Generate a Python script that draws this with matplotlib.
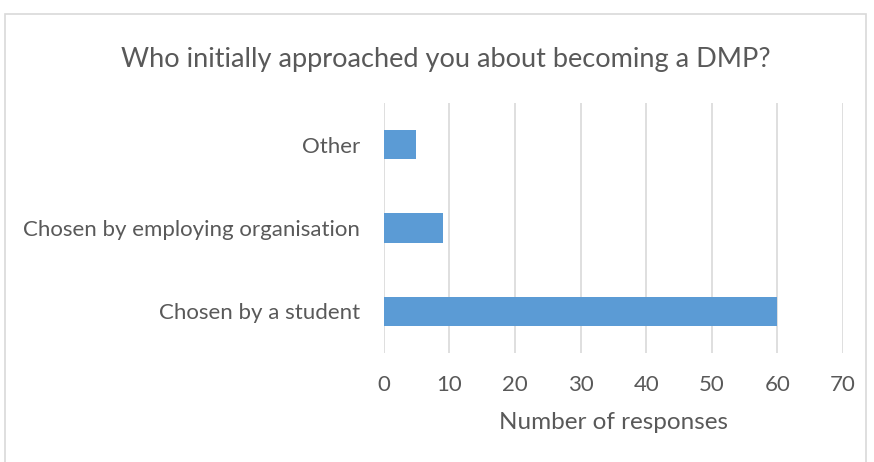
import matplotlib
matplotlib.use("Agg")
import matplotlib.pyplot as plt
from matplotlib.patches import Rectangle

categories = ["Chosen by a student", "Chosen by employing organisation", "Other"]
responses = [60, 9, 5]
xticks = [0, 10, 20, 30, 40, 50, 60, 70]

TXT = "#595959"
plt.rcParams["font.family"] = ["Lato", "DejaVu Sans"]

fig = plt.figure(figsize=(8.74, 4.62), dpi=100)
ax = fig.add_axes([0.439, 0.236, 0.5256, 0.541])

ax.barh(range(len(categories)), responses, height=0.35, color="#5B9BD5", zorder=3)
ax.set_xlim(0, 70)
ax.set_ylim(-0.5, len(categories) - 0.5)
ax.set_xticks(xticks)
ax.set_yticks(range(len(categories)))
ax.set_yticklabels(categories)
ax.grid(axis="x", color="#D9D9D9", lw=1.2, zorder=0)
for s in ax.spines.values():
    s.set_visible(False)
ax.tick_params(length=0, labelsize=16, colors=TXT)
ax.tick_params(axis="y", pad=17)
ax.tick_params(axis="x", pad=16)
ax.set_xlabel("Number of responses", fontsize=17.5, color=TXT, labelpad=12)

fig.text(0.51, 0.872, "Who initially approached you about becoming a DMP?",
         ha="center", va="center", fontsize=19.5, color=TXT)

# chart frame
fig.patches.append(Rectangle((5 / 874, -0.01), 861 / 874, 1 - 14 / 462 + 0.01,
                             transform=fig.transFigure, fill=False,
                             edgecolor="#D9D9D9", lw=1.2))

fig.savefig("out.png", dpi=100, facecolor="white")
